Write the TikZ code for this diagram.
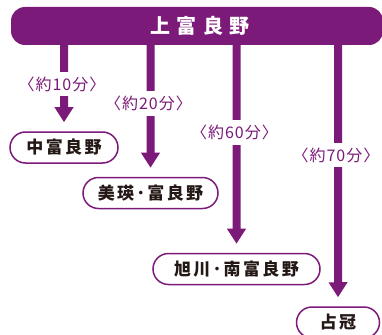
\documentclass[tikz,border=0pt]{standalone}
\usepackage{fontspec}
\usepackage{tikz}
\usetikzlibrary{arrows.meta,shapes.misc}
\newfontfamily\jptitle{Noto Sans CJK JP}[LetterSpace=33]
\newfontfamily\jpstn{Noto Sans CJK JP}[LetterSpace=14]
\newfontfamily\jpdur{Noto Sans CJK JP}[LetterSpace=6]
\definecolor{furano}{RGB}{124,26,121}
\definecolor{sumi}{RGB}{35,24,21}
\tikzset{
	bar/.style={fill=furano, rounded corners=14pt, minimum width=372pt, minimum height=38pt, inner sep=0pt,
		text=white, font=\jptitle\bfseries\fontsize{20}{20}\selectfont},
	stn/.style={rounded rectangle, draw=furano, line width=1.5pt, fill=white, minimum height=31pt, inner sep=0pt,
		text=sumi, font=\jpstn\bfseries\fontsize{17}{17}\selectfont},
	dur/.style={fill=white, text=furano, inner xsep=1pt, inner ysep=5pt, font=\jpdur\fontsize{16}{16}\selectfont},
	link/.style={draw=furano, line width=8pt, -{Triangle[width=18pt,length=15pt]}, shorten >=9pt}
}

\begin{document}
\begin{tikzpicture}[x=1pt, y=-1pt]
			%%%%% START %%%%%
			\useasboundingbox (0,0) rectangle (382,334);
			
			\node[bar] (kami) at (197,26) {\hspace{6pt}上富良野};
			
			\node[stn, minimum width=108pt] (naka) at (64,147.5) {中富良野};
			\node[stn, minimum width=135pt] (biei) at (150.5,193) {美瑛･富良野};
			\node[stn, minimum width=167pt] (asahi) at (236.5,269) {旭川･南富良野};
			\node[stn, minimum width=83pt] (shimu) at (338,322.5) {占冠};
			
			\draw[link] (kami.south -| naka) -- (naka);
			\draw[link] (kami.south -| biei) -- (biei);
			\draw[link] (kami.south -| asahi) -- (asahi);
			\draw[link] (kami.south -| shimu) -- (shimu);
			
			\node[dur] (d1) at (62,84) {〈約10分〉};
			\node[dur] (d2) at (148.5,103.5) {〈約20分〉};
			\node[dur] (d3) at (234.5,132.5) {〈約60分〉};
			\node[dur] (d4) at (336,155) {〈約70分〉};
			
			%%%%% END %%%%%
\end{tikzpicture}
\end{document}
